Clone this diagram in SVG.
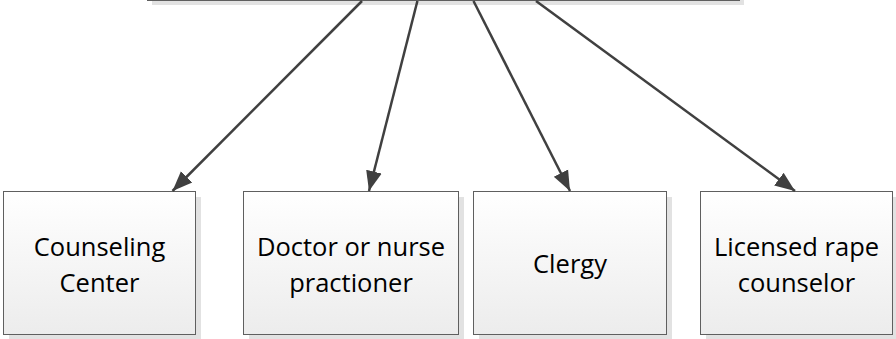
<svg xmlns="http://www.w3.org/2000/svg" width="896" height="339" viewBox="0 0 896 339">
<defs>
<linearGradient id="fill" x1="0" y1="0" x2="0" y2="1">
<stop offset="0" stop-color="#ffffff"/>
<stop offset="1" stop-color="#ececec"/>
</linearGradient>
<marker id="arr" markerUnits="userSpaceOnUse" markerWidth="22" markerHeight="18" refX="20" refY="8" orient="auto" viewBox="0 0 22 16">
<path d="M0,0 L20,8 L0,16 Z" fill="#404040"/>
</marker>
<style>
.shadow{fill:#e2e2e2;}
.box{fill:url(#fill);stroke:#5f5f5f;stroke-width:1;}
.lbl{font-family:"Open Sans","Liberation Sans",sans-serif;font-size:25.5px;fill:#000;text-anchor:middle;}
.conn{stroke:#404040;stroke-width:2.5;fill:none;marker-end:url(#arr);}
</style>
</defs>
<rect width="896" height="339" fill="#ffffff"/>
<g id="top">
<rect class="shadow" x="152" y="-140" width="592" height="145"/>
<rect class="box" x="147.5" y="-145" width="592" height="145.5"/>
</g>
<g id="counseling-center">
<rect class="shadow" x="9" y="197" width="192" height="143"/>
<rect class="box" x="3.5" y="191.5" width="192" height="143"/>
<text class="lbl" x="99.5" y="255.5">Counseling</text>
<text class="lbl" x="99.5" y="291.5">Center</text>
</g>
<g id="doctor">
<rect class="shadow" x="249" y="197" width="215" height="143"/>
<rect class="box" x="243.5" y="191.5" width="215" height="143"/>
<text class="lbl" x="351" y="255.5">Doctor or nurse</text>
<text class="lbl" x="351" y="291.5">practioner</text>
</g>
<g id="clergy">
<rect class="shadow" x="479" y="197" width="193" height="143"/>
<rect class="box" x="473.5" y="191.5" width="193" height="143"/>
<text class="lbl" x="570" y="273">Clergy</text>
</g>
<g id="rape-counselor">
<rect class="shadow" x="706" y="197" width="192" height="143"/>
<rect class="box" x="700.5" y="191.5" width="192" height="143"/>
<text class="lbl" x="796.5" y="255.5">Licensed rape</text>
<text class="lbl" x="796.5" y="291.5">counselor</text>
</g>
<g id="connectors">
<line class="conn" x1="362" y1="1" x2="172.5" y2="191"/>
<line class="conn" x1="417.4" y1="1" x2="369" y2="191"/>
<line class="conn" x1="473.5" y1="1" x2="570" y2="191"/>
<line class="conn" x1="536" y1="1" x2="795" y2="191"/>
</g>
</svg>
